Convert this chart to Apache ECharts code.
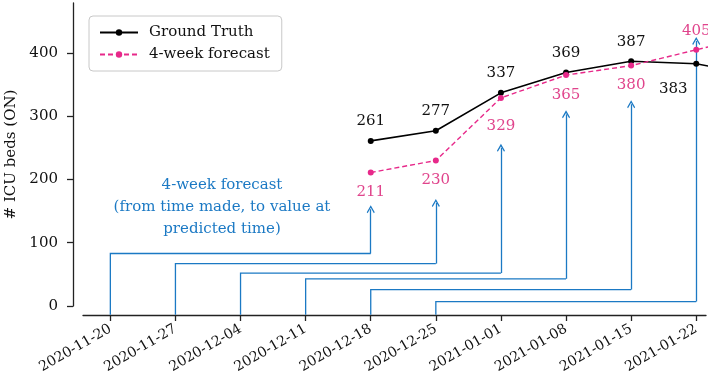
<!DOCTYPE html>
<html>
<head>
<meta charset="utf-8">
<script src="https://cdn.jsdelivr.net/npm/echarts@6/dist/echarts.min.js"></script>
<style>
    html, body { margin: 0; padding: 0; background: #fff; }
    #chart { width: 708px; height: 389px; }
</style>
</head>
<body>
<div id="chart"></div>
<script>
// weekly dates, index 0..9 on the x axis
var dates = ['2020-11-20', '2020-11-27', '2020-12-04', '2020-12-11', '2020-12-18',
             '2020-12-25', '2021-01-01', '2021-01-08', '2021-01-15', '2021-01-22'];
var weekIdx = [0, 1, 2, 3, 4, 5, 6, 7, 8, 9];

// series (index 10 is the next week, only the start of it is visible)
var truthX = [4, 5, 6, 7, 8, 9, 10];
var truthY = [261, 277, 337, 369, 387, 383, 363];
var forecastX = [4, 5, 6, 7, 8, 9, 10];
var forecastY = [211, 230, 329, 365, 380, 405, 430];

// forecast arrows: made at week "from", pointing at week "to"
var arrowFrom = [0, 1, 2, 3, 4, 5];
var arrowTo = [4, 5, 6, 7, 8, 9];
var arrowLevel = [83, 67, 52, 43, 26, 7];
var arrowTip = [153, 163, 250, 303, 319, 419];
var arrowBase = -14;

var yTicks = [0, 100, 200, 300, 400];

var serif = '"DejaVu Serif", "Liberation Serif", serif';
var blue = '#1b79c4';
var pink = '#e7298a';

var chart = echarts.init(document.getElementById('chart'));

function pairs(xs, ys) {
    var out = [];
    for (var i = 0; i < xs.length; i++) out.push([xs[i], ys[i]]);
    return out;
}

// label placement per point
var truthData = pairs(truthX, truthY).map(function (p, i) {
    var d = {value: p};
    if (i === 5) {
        d.label = {position: 'inside', offset: [-23, 25]};
    }
    return d;
});
var forecastData = pairs(forecastX, forecastY).map(function (p, i) {
    var d = {value: p};
    if (i === 5) {
        d.label = {position: 'top', distance: 8};
    } else if (i === 2) {
        d.label = {position: 'bottom', distance: 18};
    }
    return d;
});

// elbow part of each arrow, then the last upward leg with the head
var elbowData = arrowFrom.map(function (f, i) {
    return {coords: [[f, arrowBase], [f, arrowLevel[i]], [arrowTo[i], arrowLevel[i]]]};
});
var headData = arrowTo.map(function (t, i) {
    return {coords: [[t, arrowLevel[i]], [t, arrowTip[i]]]};
});

var option = {
    backgroundColor: '#fff',
    animation: false,
    textStyle: {fontFamily: serif},
    grid: {left: 83, right: 2, top: 3, bottom: 83, outerBoundsMode: 'none'},
    legend: {
        left: 89,
        top: 16,
        orient: 'vertical',
        data: ['Ground Truth', '4-week forecast'],
        itemWidth: 38,
        itemHeight: 8,
        itemGap: 7,
        padding: [9, 12, 9, 10],
        borderColor: '#c8c8c8',
        borderWidth: 1,
        borderRadius: 4,
        textStyle: {fontFamily: serif, fontSize: 15, color: '#111', padding: [0, 0, 0, 6]}
    },
    xAxis: {
        type: 'value',
        min: -0.42,
        max: 9.15,
        offset: 9,
        splitLine: {show: false},
        axisLine: {show: true, onZero: false, lineStyle: {color: '#222', width: 1.3}},
        axisTick: {show: true, length: 6, customValues: weekIdx, lineStyle: {color: '#222', width: 1.3}},
        axisLabel: {
            customValues: weekIdx,
            rotate: 30,
            margin: 13,
            fontFamily: serif,
            fontSize: 14,
            color: '#111',
            formatter: function (v) { return dates[Math.round(v)]; }
        }
    },
    yAxis: {
        type: 'value',
        min: 0,
        max: 479,
        offset: 10,
        name: '# ICU beds (ON)',
        nameLocation: 'middle',
        nameGap: 52,
        nameTextStyle: {fontFamily: serif, fontSize: 15, color: '#111'},
        splitLine: {show: false},
        axisLine: {show: true, onZero: false, lineStyle: {color: '#222', width: 1.3}},
        axisTick: {show: true, length: 6, customValues: yTicks, lineStyle: {color: '#222', width: 1.3}},
        axisLabel: {customValues: yTicks, margin: 15, fontFamily: serif, fontSize: 15, color: '#111'}
    },
    graphic: [{
        type: 'text',
        x: 222,
        y: 174,
        style: {
            text: '4-week forecast\n(from time made, to value at\npredicted time)',
            align: 'center',
            verticalAlign: 'top',
            lineHeight: 22,
            font: '15px ' + serif,
            fill: blue
        }
    }],
    series: [
        {
            name: 'arrows',
            type: 'lines',
            coordinateSystem: 'cartesian2d',
            polyline: true,
            clip: false,
            z: 1,
            symbol: 'none',
            lineStyle: {color: blue, width: 1.3, opacity: 1},
            data: elbowData
        },
        {
            name: 'arrow heads',
            type: 'lines',
            coordinateSystem: 'cartesian2d',
            clip: false,
            z: 1,
            symbol: ['none', 'path://M5,0 L10,7 L8.9,8 L5,2.6 L1.1,8 L0,7 Z'],
            symbolSize: [10, 8],
            lineStyle: {color: blue, width: 1.3, opacity: 1},
            data: headData
        },
        {
            name: 'Ground Truth',
            type: 'line',
            z: 3,
            data: truthData,
            symbol: 'circle',
            symbolSize: 6,
            showAllSymbol: true,
            itemStyle: {color: '#000'},
            lineStyle: {color: '#000', width: 1.6},
            label: {
                show: true,
                position: 'top',
                distance: 9,
                fontFamily: serif,
                fontSize: 15,
                color: '#111',
                formatter: function (p) { return p.value[1]; }
            }
        },
        {
            name: '4-week forecast',
            type: 'line',
            z: 4,
            data: forecastData,
            symbol: 'circle',
            symbolSize: 6,
            itemStyle: {color: pink},
            lineStyle: {color: pink, width: 1.4, type: [5, 3]},
            label: {
                show: true,
                position: 'bottom',
                distance: 9,
                fontFamily: serif,
                fontSize: 15,
                color: '#e0448c',
                formatter: function (p) { return p.value[1]; }
            }
        }
    ]
};

chart.setOption(option);
window.addEventListener('resize', function () {
    chart.resize();
});
</script>
</body>
</html>
